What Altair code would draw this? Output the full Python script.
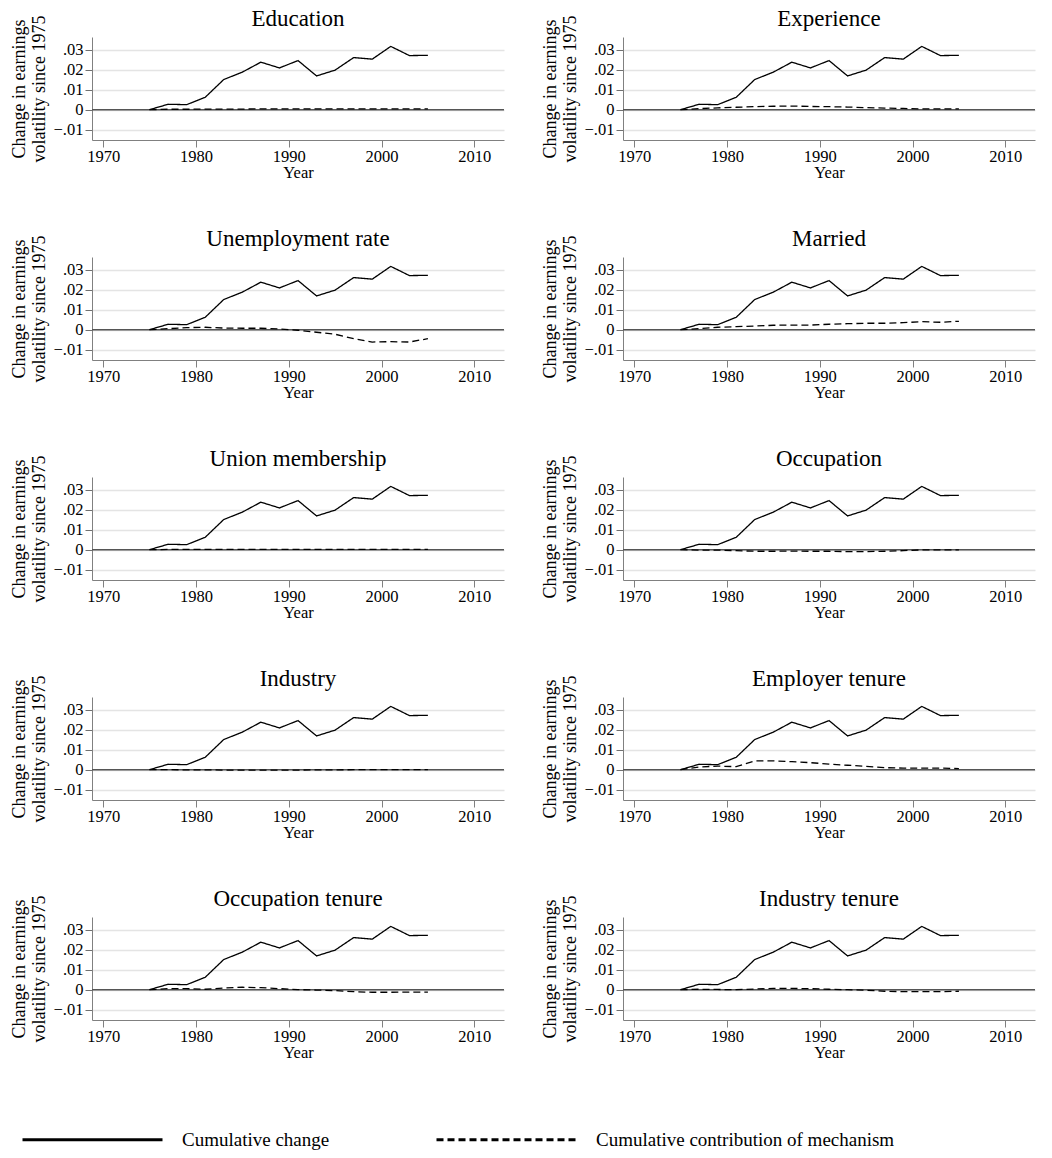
import altair as alt
import pandas as pd

years = [1975, 1977, 1979, 1981, 1983, 1985, 1987, 1989, 1991, 1993, 1995, 1997, 1999, 2001, 2003, 2005]

cumulative = [0.0, 0.0027, 0.0025, 0.0062, 0.0151, 0.0188, 0.0238, 0.0209, 0.0246, 0.0169,
              0.0198, 0.0261, 0.0253, 0.0317, 0.0271, 0.0272]

panels = ["Education", "Experience", "Unemployment rate", "Married", "Union membership",
          "Occupation", "Industry", "Employer tenure", "Occupation tenure", "Industry tenure"]

education = [0.0, 0.0002, 0.0002, 0.0003, 0.0003, 0.0003, 0.0004, 0.0004, 0.0004, 0.0004,
             0.0004, 0.0004, 0.0004, 0.0004, 0.0004, 0.0004]
experience = [0.0, 0.0005, 0.0009, 0.0012, 0.0015, 0.0017, 0.0018, 0.0016, 0.0015, 0.0013,
              0.0010, 0.0008, 0.0006, 0.0004, 0.0004, 0.0004]
unemployment = [0.0, 0.0005, 0.0010, 0.0012, 0.0008, 0.0007, 0.0007, 0.0003, -0.0003, -0.0013,
                -0.0023, -0.0045, -0.0062, -0.0060, -0.0062, -0.0045]
married = [0.0, 0.0005, 0.0012, 0.0015, 0.0018, 0.0022, 0.0023, 0.0023, 0.0027, 0.0030,
           0.0032, 0.0032, 0.0035, 0.0040, 0.0037, 0.0042]
union = [0.0, 0.0001, 0.0001, 0.0001, 0.0001, 0.0001, 0.0001, 0.0001, 0.0001, 0.0001,
         0.0001, 0.0001, 0.0001, 0.0001, 0.0001, 0.0001]
occupation = [0.0, -0.0002, -0.0002, -0.0005, -0.0008, -0.0008, -0.0007, -0.0008, -0.0008, -0.0010,
              -0.0010, -0.0008, -0.0005, -0.0001, -0.0001, -0.0001]
industry = [0.0, 0.0, -0.0001, -0.0001, -0.0002, -0.0002, -0.0002, -0.0002, -0.0002, -0.0001,
            -0.0001, 0.0, 0.0, 0.0, 0.0, 0.0]
employer_tenure = [0.0, 0.0013, 0.0018, 0.0015, 0.0044, 0.0044, 0.0040, 0.0035, 0.0028, 0.0022,
                   0.0017, 0.0010, 0.0008, 0.0008, 0.0008, 0.0005]
occupation_tenure = [0.0, 0.0005, 0.0005, 0.0002, 0.0008, 0.0012, 0.0010, 0.0005, 0.0, -0.0002,
                     -0.0005, -0.0010, -0.0013, -0.0013, -0.0012, -0.0012]
industry_tenure = [0.0, 0.0002, 0.0001, 0.0, 0.0003, 0.0006, 0.0006, 0.0005, 0.0002, 0.0,
                   -0.0003, -0.0008, -0.0010, -0.0010, -0.0010, -0.0008]

mechanisms = [education, experience, unemployment, married, union, occupation, industry,
              employer_tenure, occupation_tenure, industry_tenure]

series_names = ["Cumulative change", "Cumulative contribution of mechanism"]
y_ticks = [-0.01, 0, 0.01, 0.02, 0.03]
x_ticks = [1970, 1980, 1990, 2000, 2010]

rows = []
for panel, mech in zip(panels, mechanisms):
    for i, yr in enumerate(years):
        rows.append({"panel": panel, "year": yr, "series": series_names[0], "value": cumulative[i]})
        rows.append({"panel": panel, "year": yr, "series": series_names[1], "value": mech[i]})
df = pd.DataFrame(rows)

FONT = "Liberation Serif"

x_enc = alt.X("year:Q",
              scale=alt.Scale(domain=[1968.8, 2013.2], nice=False, zero=False),
              axis=alt.Axis(values=x_ticks, format="d", title="Year",
                            grid=False, tickSize=7, tickColor="#808080", domainColor="#808080",
                            labelFontSize=16.5, titleFontSize=16.5, labelColor="black",
                            titleColor="black", titleFontWeight="normal", labelPadding=1,
                            titlePadding=0, labelFont=FONT, titleFont=FONT))

y_axis = alt.Axis(values=y_ticks, format=".2f",
                  labelExpr="datum.value == 0 ? '0' : replace(datum.label, '0.', '.')",
                  labelOverlap=False, labelSeparation=0, labelBound=False, labelFlush=False,
                  title=["Change in earnings", "volatility since 1975"],
                  tickSize=7, tickColor="#707070", domainColor="#808080",
                  grid=True, gridColor="#e4e4e4", gridWidth=1.5,
                  labelFontSize=16.5, titleFontSize=18, labelColor="black", titleColor="black",
                  titleFontWeight="normal", labelPadding=2, titlePadding=5,
                  titleLineHeight=20, labelFont=FONT, titleFont=FONT)

y_scale = alt.Scale(domain=[-0.0152, 0.0364], nice=False, zero=False)
y_enc = alt.Y("value:Q", scale=y_scale, axis=y_axis)

zero_rule = alt.Chart().mark_rule(color="#555555", strokeWidth=1.5).encode(
    y=alt.datum(0, axis=y_axis, scale=y_scale)
).transform_filter(
    (alt.datum.year == 1975) & (alt.datum.series == series_names[0])
)

lines = alt.Chart().mark_line(color="black", strokeWidth=1.3).encode(
    x=x_enc,
    y=y_enc,
    strokeDash=alt.StrokeDash("series:N",
                              scale=alt.Scale(domain=series_names, range=[[1, 0], [7, 4]]),
                              legend=alt.Legend(title=None, orient="none", direction="horizontal",
                                                legendX=-71, legendY=1031,
                                                symbolType="stroke", symbolSize=19600,
                                                symbolStrokeWidth=3, symbolStrokeColor="black",
                                                labelFontSize=19, labelFont=FONT,
                                                labelColor="black", columnPadding=100,
                                                labelOffset=18, labelLimit=600)),
    detail="series:N",
)

layered = alt.layer(zero_rule, lines).properties(width=412, height=103)

chart = layered.facet(
    facet=alt.Facet("panel:N", sort=panels,
                    header=alt.Header(title=None, labelFontSize=23, labelFont=FONT,
                                      labelColor="black", labelPadding=-16)),
    columns=2,
    data=df,
    spacing={"row": 47, "column": 36},
).resolve_axis(x="independent", y="independent").configure(
    font=FONT, padding={"left": 2, "top": 0, "right": 5, "bottom": 5}
).configure_axis(labelOverlap=False).configure_view(stroke=None)

chart.save("out.html", embed_options={"renderer": "svg", "actions": False})
